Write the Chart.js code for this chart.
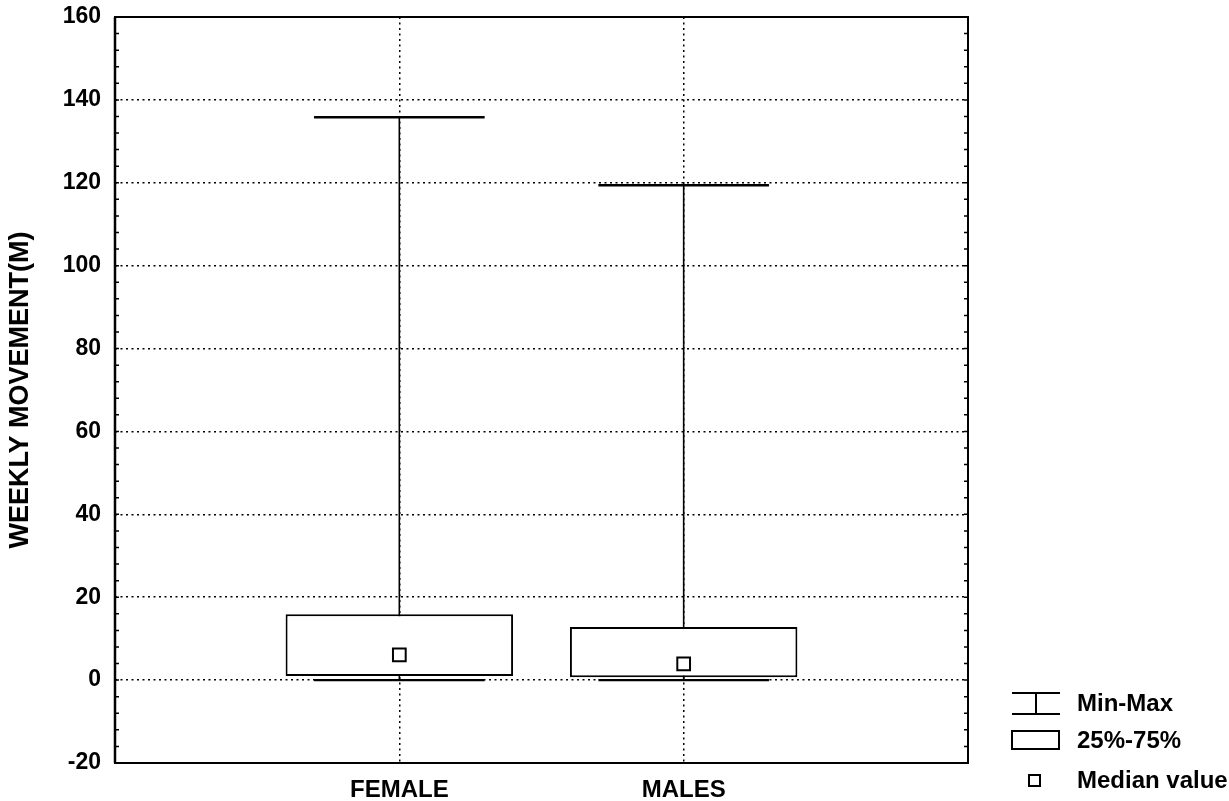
<!DOCTYPE html>
<html>
<head>
<meta charset="utf-8">
<title>Weekly movement</title>
<script src="https://cdn.jsdelivr.net/npm/chart.js@4.4.0/dist/chart.umd.min.js"></script>
<style>
  html, body { margin: 0; padding: 0; background: #fff; }
  #wrap { width: 1229px; height: 801px; position: relative; }
</style>
</head>
<body>
<div id="wrap"><canvas id="chart"></canvas></div>
<script>
// values
const categories = ['FEMALE', 'MALES'];
const minValues = [0, 0];
const maxValues = [135.8, 119.4];
const q1Values = [1.0, 0.7];
const q3Values = [15.9, 12.8];
const medianValues = [6.1, 3.9];
const yTicks = [-20, 0, 20, 40, 60, 80, 100, 120, 140, 160];
const legendLabels = ['Min-Max', '25%-75%', 'Median value'];

const FONT = '"Liberation Sans", Arial, sans-serif';

// empty slots at both ends so the two groups sit at 1/3 and 2/3 of the width
const labels = ['', ...categories, ''];
const pad = arr => [null, ...arr, null];

const boxPlotPlugin = {
    id: 'boxPlot',
    beforeDatasetsDraw(chart) {
        const ctx = chart.ctx;
        const x = chart.scales.x;
        const y = chart.scales.y;
        const step = x.getPixelForValue(2) - x.getPixelForValue(1);
        const capHalf = step * 0.3;
        ctx.save();
        ctx.strokeStyle = '#000';
        categories.forEach((c, i) => {
            const px = x.getPixelForValue(i + 1);
            const yMin = y.getPixelForValue(minValues[i]);
            const yMax = y.getPixelForValue(maxValues[i]);
            ctx.lineWidth = 1.6;
            ctx.beginPath();
            ctx.moveTo(px, yMin);
            ctx.lineTo(px, yMax);
            ctx.stroke();
            ctx.lineWidth = 2.4;
            ctx.beginPath();
            ctx.moveTo(px - capHalf, yMax);
            ctx.lineTo(px + capHalf, yMax);
            ctx.moveTo(px - capHalf, yMin);
            ctx.lineTo(px + capHalf, yMin);
            ctx.stroke();
        });
        ctx.restore();
    },
    afterDatasetsDraw(chart) {
        const ctx = chart.ctx;
        const a = chart.chartArea;
        const y = chart.scales.y;
        ctx.save();
        ctx.strokeStyle = '#000';
        // minor ticks inside left and right frame
        ctx.lineWidth = 1.5;
        ctx.beginPath();
        for (let v = yTicks[0]; v <= yTicks[yTicks.length - 1]; v += 4) {
            const py = y.getPixelForValue(v);
            ctx.moveTo(a.left, py);
            ctx.lineTo(a.left + 4, py);
            ctx.moveTo(a.right, py);
            ctx.lineTo(a.right - 4, py);
        }
        ctx.stroke();
        // frame
        ctx.lineWidth = 2;
        ctx.strokeRect(a.left, a.top, a.right - a.left, a.bottom - a.top);
        ctx.lineWidth = 2.5;
        ctx.beginPath();
        ctx.moveTo(a.left, a.top);
        ctx.lineTo(a.left, a.bottom);
        ctx.stroke();
        ctx.restore();
    },
    afterDraw(chart) {
        // legend in the lower right corner
        const ctx = chart.ctx;
        const x0 = chart.chartArea.right + 44;
        const tx = x0 + 65;
        ctx.save();
        ctx.strokeStyle = '#000';
        ctx.fillStyle = '#000';
        ctx.lineWidth = 2;
        ctx.beginPath();
        ctx.moveTo(x0, 693); ctx.lineTo(x0 + 48, 693);
        ctx.moveTo(x0, 714); ctx.lineTo(x0 + 48, 714);
        ctx.moveTo(x0 + 24, 693); ctx.lineTo(x0 + 24, 714);
        ctx.stroke();
        ctx.strokeRect(x0, 731, 47, 18);
        ctx.strokeRect(x0 + 17, 775, 11, 11);
        ctx.font = 'bold 24px ' + FONT;
        ctx.textBaseline = 'middle';
        ctx.textAlign = 'left';
        ctx.fillText(legendLabels[0], tx, 704);
        ctx.fillText(legendLabels[1], tx, 741);
        ctx.fillText(legendLabels[2], tx, 781);
        ctx.restore();
    }
};

const gridOpts = {
    color: '#000',
    lineWidth: 1.5,
    drawTicks: false,
    offset: false
};

new Chart(document.getElementById('chart'), {
    data: {
        labels: labels,
        datasets: [
            {
                type: 'line',
                label: 'Median value',
                data: pad(medianValues),
                showLine: false,
                pointStyle: 'rect',
                pointRadius: 9,
                pointBorderWidth: 2,
                pointBorderColor: '#000',
                pointBackgroundColor: '#fff',
                order: 0
            },
            {
                type: 'bar',
                label: '25%-75%',
                data: pad(q1Values.map((q, i) => [q, q3Values[i]])),
                backgroundColor: '#fff',
                borderColor: '#000',
                borderWidth: 2,
                borderSkipped: false,
                barPercentage: 0.8,
                categoryPercentage: 1,
                order: 1
            }
        ]
    },
    options: {
        responsive: true,
        maintainAspectRatio: false,
        animation: false,
        devicePixelRatio: 1,
        layout: {
            padding: { left: 0, top: 17, right: 261, bottom: 0 }
        },
        plugins: {
            legend: { display: false },
            tooltip: { enabled: false }
        },
        scales: {
            x: {
                type: 'category',
                offset: false,
                grid: gridOpts,
                border: { display: false, dash: [2, 3.5] },
                ticks: {
                    color: '#000',
                    font: { family: FONT, size: 24, weight: 'bold' },
                    padding: 13,
                    maxRotation: 0,
                    autoSkip: false
                },
                afterFit: s => { s.height = 38; s.paddingLeft = 0; s.paddingRight = 0; }
            },
            y: {
                type: 'linear',
                min: yTicks[0],
                max: yTicks[yTicks.length - 1],
                grid: gridOpts,
                border: { display: false, dash: [2, 3.5] },
                ticks: {
                    stepSize: 20,
                    color: '#000',
                    font: { family: FONT, size: 23, weight: 'bold' },
                    padding: 14
                },
                title: {
                    display: true,
                    text: 'WEEKLY MOVEMENT(M)',
                    color: '#000',
                    font: { family: FONT, size: 27, weight: 'bold' },
                    padding: { top: 4, bottom: 0 }
                },
                afterFit: s => { s.width = 115; s.paddingTop = 0; s.paddingBottom = 0; }
            }
        }
    },
    plugins: [boxPlotPlugin]
});
</script>
</body>
</html>
